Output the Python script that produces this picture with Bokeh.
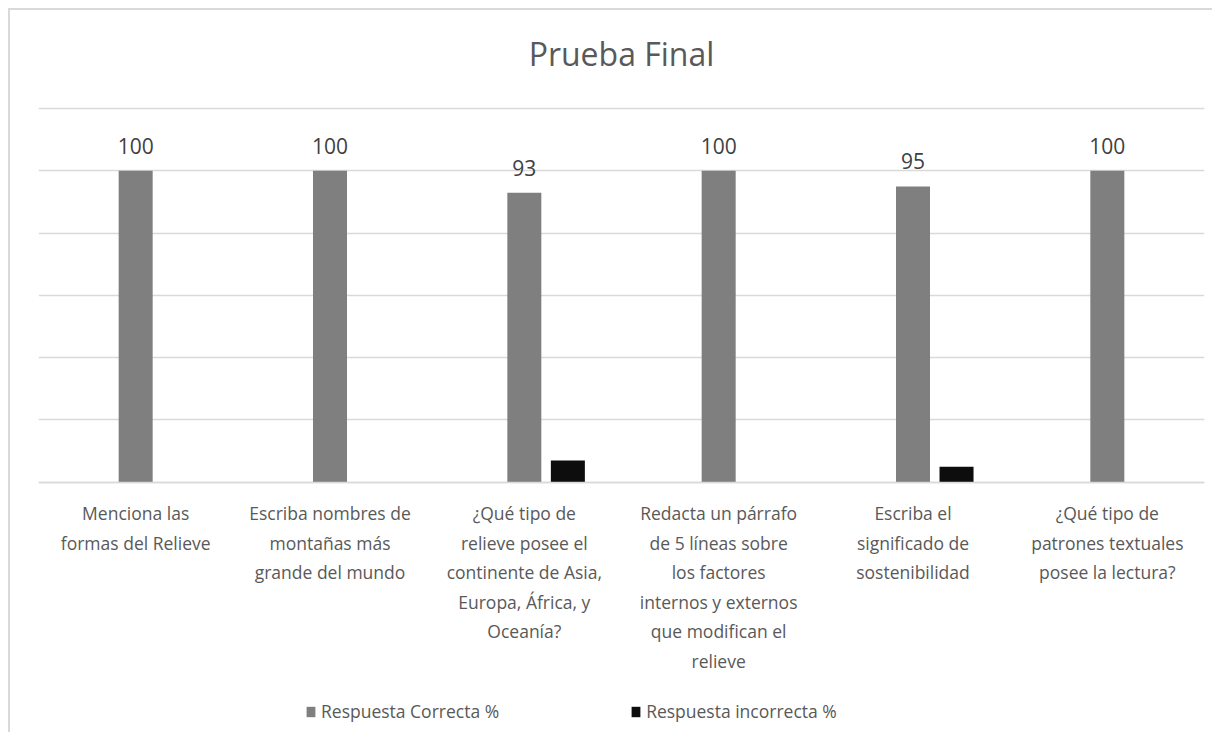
from bokeh.plotting import figure
from bokeh.models import ColumnDataSource, FactorRange, FixedTicker, Legend, LegendItem, Grid, Label
from bokeh.transform import dodge
from bokeh.embed import file_html
from bokeh.resources import INLINE
from bokeh.core.properties import value

categories = [
    "Menciona las\nformas del Relieve",
    "Escriba nombres de\nmontañas más\ngrande del mundo",
    "¿Qué tipo de\nrelieve posee el\ncontinente de Asia,\nEuropa, África, y\nOceanía?",
    "Redacta un párrafo\nde 5 líneas sobre\nlos factores\ninternos y externos\nque modifican el\nrelieve",
    "Escriba el\nsignificado de\nsostenibilidad",
    "¿Qué tipo de\npatrones textuales\nposee la lectura?",
]
correct = [100, 100, 93, 100, 95, 100]
incorrect = [0, 0, 7, 0, 5, 0]
y_ticks = [0, 20, 40, 60, 80, 100, 120]
series_names = ["Respuesta Correcta %", "Respuesta incorrecta %"]
title_text = "Prueba Final"

FONT = "Open Sans"
TXT = "#595959"
GRID = "#d9d9d9"

src = ColumnDataSource(dict(cat=categories, correct=correct, incorrect=incorrect,
                            lbl=[str(v) for v in correct]))

# the frame fills the whole height so that title, category labels and legend sit in it
p = figure(x_range=FactorRange(*categories, range_padding=0), y_range=(-81, 151.5),
           width=1204, height=724, output_backend="svg", toolbar_location=None,
           title=None, y_axis_location=None, min_border_left=28, min_border_right=10,
           min_border_top=0, min_border_bottom=0)
p.margin = (8, 0, 0, 8)
p.styles = {"border-left": "2px solid #d9d9d9", "border-top": "2px solid #d9d9d9"}
p.outline_line_color = None
p.xgrid.visible = False
p.ygrid.visible = False
p.add_layout(Grid(dimension=1, ticker=FixedTicker(ticks=y_ticks), grid_line_color=GRID,
                  grid_line_width=1.3))

p.add_layout(Label(x=583, y=681, x_units="screen", y_units="screen", text=title_text,
                   text_align="center", text_baseline="alphabetic", text_font=FONT,
                   text_font_size="32px", text_color=TXT))

ax = p.xaxis[0]
ax.fixed_location = 0
ax.axis_line_color = GRID
ax.axis_line_width = 1.3
ax.major_tick_line_color = None
ax.minor_tick_line_color = None
ax.major_label_text_font = FONT
ax.major_label_text_font_size = "17.5px"
ax.major_label_text_color = TXT
ax.major_label_text_line_height = 1.23
ax.major_label_standoff = 13
ax.major_label_orientation = "horizontal"

r1 = p.vbar(x="cat", top="correct", width=0.175, source=src,
            fill_color="#7f7f7f", line_color=None)
r2 = p.vbar(x=dodge("cat", 0.224, range=p.x_range), top="incorrect", width=0.175,
            source=src, fill_color="#0d0d0d", line_color=None)

p.text(x="cat", y="correct", text="lbl", source=src, text_align="center",
       text_baseline="alphabetic", y_offset=-25, text_font=value(FONT),
       text_font_size="21px", text_color="#404040")

leg = Legend(items=[LegendItem(label=series_names[0], renderers=[r1]),
                    LegendItem(label=series_names[1], renderers=[r2])],
             location=(267, 11), orientation="horizontal", glyph_width=11, glyph_height=13,
             label_standoff=5, spacing=131, padding=0, margin=0, border_line_color=None,
             background_fill_alpha=0, label_text_font=FONT,
             label_text_font_size="17.5px", label_text_color=TXT)
p.add_layout(leg)

open("out.html", "w").write(file_html(p, INLINE))
